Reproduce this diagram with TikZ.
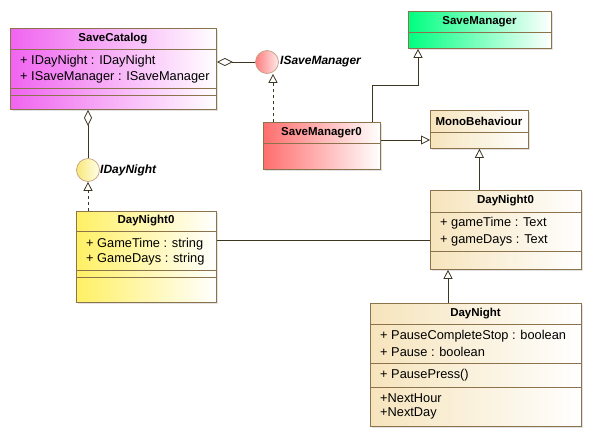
\documentclass[tikz,border=0pt]{standalone}
\usepackage{fontspec}
\setmainfont{Liberation Sans}
\usetikzlibrary{arrows.meta,shadows,positioning}

\definecolor{edgebrown}{RGB}{140,115,75}
\definecolor{linedark}{RGB}{60,55,35}
\definecolor{catpink}{RGB}{240,100,240}
\definecolor{mgrgreen}{RGB}{0,255,128}
\definecolor{mgrred}{RGB}{255,110,110}
\definecolor{dnyellow}{RGB}{255,240,100}
\definecolor{cream}{RGB}{246,228,188}
\definecolor{ballred}{RGB}{255,125,125}
\definecolor{ballyellow}{RGB}{248,232,120}
\definecolor{ballrim}{RGB}{195,160,130}

\tikzset{
  classbox/.style={rectangle,draw=edgebrown,line width=0.8pt,inner sep=0pt,anchor=north west,
    right color=white,drop shadow={shadow xshift=2pt,shadow yshift=-2pt,fill=blue!10!black!25,opacity=0.45}},
  classname/.style={font=\bfseries\fontsize{11.5}{13}\selectfont,inner sep=0pt},
  member/.style={anchor=west,font=\fontsize{12.8}{14}\selectfont,inner sep=0pt},
  iface/.style={circle,draw=ballrim,line width=0.7pt,minimum size=23pt,inner sep=0pt,shading angle=60},
  ifacename/.style={anchor=west,font=\bfseries\itshape\fontsize{12}{13}\selectfont,inner sep=0pt},
  sep/.style={draw=edgebrown,line width=0.8pt},
  conn/.style={draw=linedark,line width=0.8pt},
  gen/.style={conn,-{Triangle[open,length=9pt,width=9pt,fill=white]}},
  real/.style={gen,dashed},
  aggr/.style={conn,{Diamond[open,length=16pt,width=8pt,fill=white]}-}
}

\begin{document}
\begin{tikzpicture}[x=1pt,y=-1pt]
\useasboundingbox (0,0) rectangle (592,437);

% classes
\node[classbox,left color=catpink,minimum width=206pt,minimum height=81pt] (cat) at (10,28) {};
\node[classbox,left color=mgrgreen,minimum width=143pt,minimum height=37pt] (mgr) at (408,11) {};
\node[classbox,left color=mgrred,minimum width=117pt,minimum height=47pt] (mgr0) at (263,122) {};
\node[classbox,left color=cream,minimum width=98pt,minimum height=38pt] (mono) at (430,110) {};
\node[classbox,left color=cream,minimum width=151pt,minimum height=79pt] (dn0) at (430,190) {};
\node[classbox,left color=cream,minimum width=211pt,minimum height=123pt] (dn) at (370,303) {};
\node[classbox,left color=dnyellow,minimum width=140pt,minimum height=91pt] (dnY) at (76,211) {};

% compartments
\draw[sep] (10,49) -- (216,49) (10,88) -- (216,88) (10,95) -- (216,95);
\draw[sep] (408,32) -- (551,32);
\draw[sep] (263,143) -- (380,143);
\draw[sep] (430,132) -- (528,132);
\draw[sep] (430,212) -- (581,212) (430,251) -- (581,251);
\draw[sep] (370,324) -- (581,324) (370,363) -- (581,363) (370,387) -- (581,387);
\draw[sep] (76,231) -- (216,231) (76,270) -- (216,270) (76,277) -- (216,277);

% texts
\node[classname] (catT) at (113,38.5) {SaveCatalog};
\node[member] (catA) at (20,61.5) {+ IDayNight : IDayNight};
\node[member] (catB) at (20,77) {+ ISaveManager : ISaveManager};
\node[classname] (mgrT) at (479.5,21.5) {SaveManager};
\node[classname] (mgr0T) at (321.5,132.5) {SaveManager0};
\node[classname] (monoT) at (479,121) {MonoBehaviour};
\node[classname] (dn0T) at (505.5,201) {DayNight0};
\node[member] (dn0A) at (440,223) {+ gameTime : Text};
\node[member] (dn0B) at (440,240) {+ gameDays : Text};
\node[classname] (dnT) at (475.5,313.5) {DayNight};
\node[member] (dnA) at (380,336) {+ PauseCompleteStop : boolean};
\node[member] (dnB) at (380,352) {+ Pause : boolean};
\node[member] (dnC) at (380,375) {+ PausePress()};
\node[member] (dnD) at (380,398) {+NextHour};
\node[member] (dnE) at (380,413) {+NextDay};
\node[classname] (dnYT) at (146,221) {DayNight0};
\node[member] (dnYA) at (86,244) {+ GameTime : string};
\node[member] (dnYB) at (86,259) {+ GameDays : string};

% interfaces
\node[iface,left color=ballred,right color=red!8] (isave) at (267,62) {};
\node[ifacename] (isaveT) at (280,62) {ISaveManager};
\node[iface,left color=ballyellow,right color=yellow!8] (iday) at (88,170) {};
\node[ifacename] (idayT) at (100,170) {IDayNight};

% connectors
\coordinate (monoin) at (430,140);
\coordinate (assocR) at (430,240);
\path[aggr] (cat.east |- isave.west) -- (isave.west);
\path[aggr] (iday.north |- cat.south) -- (iday.north);
\path[real] ([xshift=10pt]mgr0.north west) -- ([xshift=10pt]mgr0.north west |- isave.south);
\path[real] (iday.south |- dnY.north) -- (iday.south);
\path[gen] ([xshift=-8pt]mgr0.north east) -- ++(0,-37) -| ([xshift=10pt]mgr.south west);
\path[gen] (mgr0.east |- monoin) -- (monoin);
\path[gen] (mono.south |- dn0.north) -- (mono.south);
\path[gen] ([xshift=78pt]dn.north west) -- ([xshift=78pt]dn.north west |- dn0.south);
\path[conn] (dnY.east |- assocR) -- (assocR);
\end{tikzpicture}
\end{document}
